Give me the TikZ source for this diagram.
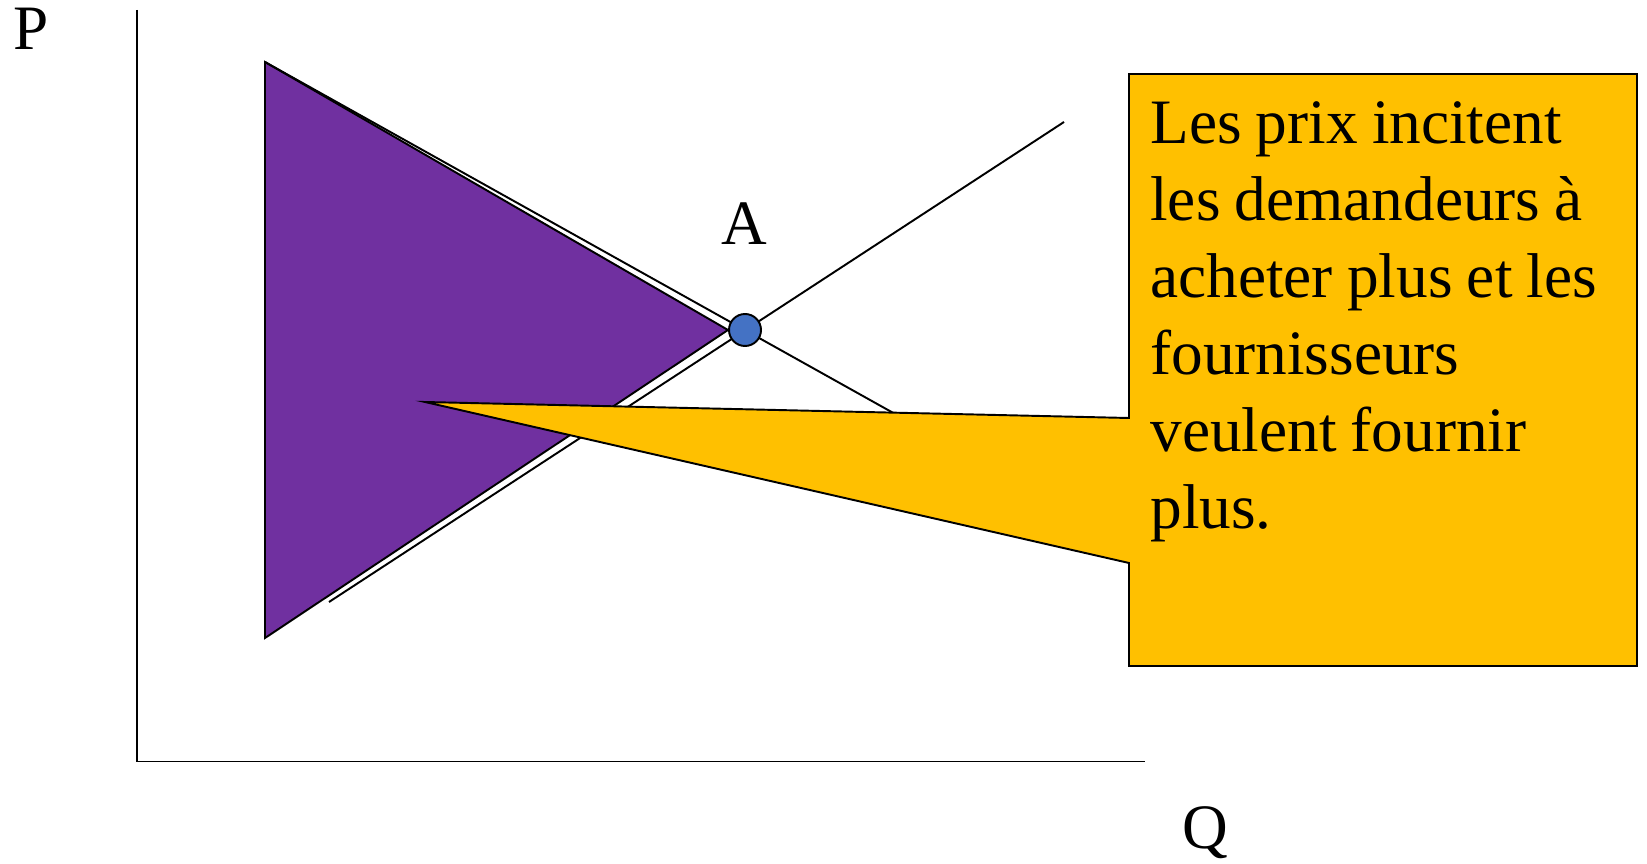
\documentclass[tikz,border=0pt]{standalone}
\usepackage{fontspec}
\setmainfont{Liberation Serif}
\usetikzlibrary{positioning,calc}

\definecolor{pourpre}{HTML}{7030A0}
\definecolor{jaune}{HTML}{FFC000}
\definecolor{bleuA}{HTML}{4472C4}

\tikzset{
  lbl/.style={font=\fontsize{36}{43.8}\selectfont, inner sep=0pt},
  trait/.style={line width=1.1pt},
}

\begin{document}
\begin{tikzpicture}
  \useasboundingbox (0,0) rectangle (32.94,17.26);
  % axes P / Q
  \coordinate (O) at (2.74,2.03);
  \coordinate (Ymax) at (2.74,17.06);
  \coordinate (Xmax) at (22.90,2.03);
  \draw[trait] (Ymax) -- (O) -- (Xmax);
  \node[lbl,anchor=base west] (P) at (0.26,16.26) {P};
  \node[lbl,anchor=base west] (Q) at (23.64,0.29) {Q};
  % triangle violet
  \coordinate (T1) at (5.30,16.02);
  \coordinate (T2) at (5.30,4.50);
  \coordinate (T3) at (14.56,10.66);
  \filldraw[trait,fill=pourpre] (T1) -- (T2) -- (T3) -- cycle;
  % demande et offre
  \coordinate (D1) at (5.30,16.02);
  \coordinate (D2) at (19.80,7.92);
  \coordinate (S1) at (6.58,5.22);
  \coordinate (S2) at (21.28,14.82);
  \draw[trait] (D1) -- (D2);
  \draw[trait] (S1) -- (S2);
  % point d'equilibre A
  \node[circle,draw,trait,fill=bleuA,minimum size=0.64cm,inner sep=0pt] (eq) at (14.90,10.66) {};
  \node[lbl,anchor=base] (A) at (14.88,12.36) {A};
  % bulle jaune
  \coordinate (B1) at (22.58,15.78);
  \coordinate (B2) at (32.74,15.78);
  \coordinate (B3) at (32.74,3.94);
  \coordinate (B4) at (22.58,3.94);
  \coordinate (pied1) at (22.58,6.00);
  \coordinate (pointe) at (8.50,9.22);
  \coordinate (pied2) at (22.58,8.90);
  \filldraw[trait,fill=jaune] (B1) -- (B2) -- (B3) -- (B4) -- (pied1) -- (pointe) -- (pied2) -- cycle;
  \node[lbl,anchor=north west,text width=9.6cm,align=left] (msg) at (23.00,15.23)
    {\spaceskip=0.225em\relax Les prix incitent\\les demandeurs à\\acheter plus et les\\fournisseurs\\veulent fournir\\plus.};
\end{tikzpicture}
\end{document}
